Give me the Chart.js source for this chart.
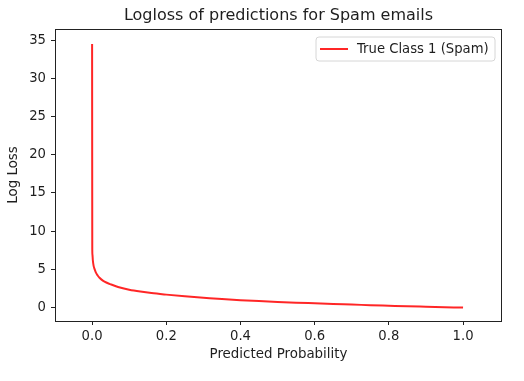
<!DOCTYPE html>
<html>
<head>
<meta charset="utf-8">
<script src="https://cdn.jsdelivr.net/npm/chart.js@4/dist/chart.umd.min.js"></script>
<style>
  html, body { margin: 0; padding: 0; background: #fff; }
  #wrap { width: 524px; height: 381px; }
</style>
</head>
<body>
<div id="wrap"><canvas id="chartLogloss" width="524" height="381"></canvas></div>
<script>
// values
var probX = [0.0, 0.0005, 0.001, 0.002, 0.004, 0.007, 0.01, 0.015, 0.02, 0.03, 0.04, 0.05, 0.07, 0.1, 0.13, 0.16, 0.2, 0.25, 0.3, 0.35, 0.4, 0.45, 0.5, 0.55, 0.6, 0.65, 0.7, 0.75, 0.8, 0.85, 0.9, 0.95, 1.0]
var logLoss = [34.5, 7.6, 6.9, 6.2, 5.5, 5.0, 4.6, 4.2, 3.9, 3.5, 3.25, 3.05, 2.7, 2.35, 2.1, 1.9, 1.7, 1.48, 1.3, 1.12, 0.98, 0.86, 0.75, 0.65, 0.56, 0.47, 0.4, 0.32, 0.25, 0.18, 0.12, 0.06, 0.0]
var xTicks = [0.0, 0.2, 0.4, 0.6, 0.8, 1.0]
var yTicks = [0, 5, 10, 15, 20, 25, 30, 35]

var chartTitle = 'Logloss of predictions for Spam emails'
var xTitle = 'Predicted Probability'
var yTitle = 'Log Loss'
var seriesLabel = 'True Class 1 (Spam)'

var fontFam = '"DejaVu Sans", sans-serif'
var textColor = '#1e1e1e'

function makePoints(xs, ys){
   var pts = []
   for (var i = 0; i < xs.length; i++) {
      pts.push({x: xs[i], y: ys[i]})
   }
   return pts
}

// draws title, axis titles, frame and the legend box (matplotlib look)
var decorPlugin = {
   id: 'decor',
   afterDraw: function(chart){
      var ctx = chart.ctx
      var a = chart.chartArea
      ctx.save()
      ctx.strokeStyle = '#222'
      ctx.lineWidth = 1
      ctx.strokeRect(Math.round(a.left) + 0.5, Math.round(a.top) + 0.5, Math.round(a.right - a.left) - 1, Math.round(a.bottom - a.top))

      ctx.fillStyle = textColor
      ctx.textAlign = 'center'
      ctx.textBaseline = 'middle'
      ctx.font = '16px ' + fontFam
      ctx.fillText(chartTitle, (a.left + a.right) / 2, 16)

      ctx.font = '13.4px ' + fontFam
      ctx.fillText(xTitle, (a.left + a.right) / 2, 355)

      ctx.save()
      ctx.translate(14, (a.top + a.bottom) / 2)
      ctx.rotate(-Math.PI / 2)
      ctx.fillText(yTitle, 0, 0)
      ctx.restore()

      // legend
      var ds = chart.data.datasets[0]
      var lx = 316, ly = 37, lw = 179, lh = 24, r = 3
      ctx.beginPath()
      ctx.moveTo(lx + r, ly)
      ctx.arcTo(lx + lw, ly, lx + lw, ly + lh, r)
      ctx.arcTo(lx + lw, ly + lh, lx, ly + lh, r)
      ctx.arcTo(lx, ly + lh, lx, ly, r)
      ctx.arcTo(lx, ly, lx + lw, ly, r)
      ctx.closePath()
      ctx.fillStyle = 'rgba(255,255,255,0.8)'
      ctx.fill()
      ctx.strokeStyle = '#d6d6d6'
      ctx.stroke()

      ctx.beginPath()
      ctx.strokeStyle = ds.borderColor
      ctx.lineWidth = 2
      ctx.moveTo(320, 49)
      ctx.lineTo(348, 49)
      ctx.stroke()

      ctx.fillStyle = textColor
      ctx.textAlign = 'left'
      ctx.font = '13.2px ' + fontFam
      ctx.fillText(ds.label, 357, 49.5)
      ctx.restore()
   }
}

var ctx = document.getElementById('chartLogloss').getContext('2d')

var graficoLogloss = new Chart(ctx, {
   type: 'line',
   data: {
      datasets: [{
         label: seriesLabel,
         data: makePoints(probX, logLoss),
         borderColor: 'rgba(255, 0, 0, 0.85)',
         borderWidth: 2,
         pointRadius: 0,
         fill: false,
         cubicInterpolationMode: 'monotone'
      }]
   },
   options: {
      responsive: false,
      animation: false,
      layout: { padding: { left: 0, top: 29, right: 22, bottom: 0 } },
      plugins: {
         legend: { display: false },
         title: { display: false },
         tooltip: { enabled: false }
      },
      scales: {
         x: {
            type: 'linear',
            min: -0.1,
            max: 1.105,
            afterBuildTicks: function(axis){
               axis.ticks = xTicks.map(function(v){ return {value: v} })
            },
            afterFit: function(axis){ axis.height = 60 },
            grid: { drawOnChartArea: false, tickLength: 4, color: '#222' },
            border: { display: false },
            ticks: {
               padding: 4,
               color: textColor,
               font: { family: fontFam, size: 13.2 },
               maxRotation: 0,
               callback: function(v){ return Number(v).toFixed(1) }
            }
         },
         y: {
            type: 'linear',
            min: -1.75,
            max: 36.45,
            afterBuildTicks: function(axis){
               axis.ticks = yTicks.map(function(v){ return {value: v} })
            },
            afterFit: function(axis){ axis.width = 55 },
            grid: { drawOnChartArea: false, tickLength: 4, color: '#222' },
            border: { display: false },
            ticks: {
               padding: 5,
               color: textColor,
               font: { family: fontFam, size: 13.2 },
               callback: function(v){ return String(v) }
            }
         }
      }
   },
   plugins: [decorPlugin]
})
</script>
</body>
</html>
